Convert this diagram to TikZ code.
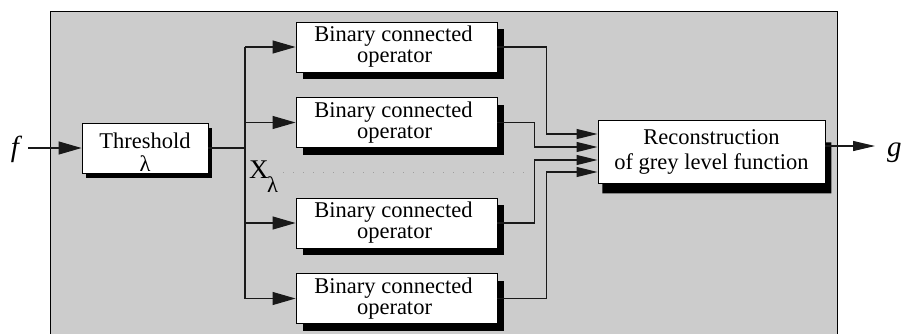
\documentclass[tikz,border=0pt]{standalone}
\usepackage{fontspec}
\setmainfont{Liberation Serif}
\newfontfamily\serifface{Liberation Serif}
\usetikzlibrary{arrows.meta,shadows,calc}
\tikzset{
  wire/.style={line width=1.1pt, draw=black!90},
  arr/.style={wire, -{Triangle[length=23pt,width=13pt]}},
  arrs/.style={wire, -{Triangle[length=21pt,width=10pt]}},
  block/.style={draw=black, line width=0.9pt, fill=white, inner sep=0pt, align=center},
  opbox/.style={block, minimum width=201pt, minimum height=50pt,
    font=\serifface\fontsize{22.5}{21}\selectfont,
    general shadow={fill=black, shadow xshift=7pt, shadow yshift=-7pt}},
  dots/.style={black!38, line width=1pt, dash pattern=on 1pt off 9pt},
}
\begin{document}
\begin{tikzpicture}[x=1pt,y=-1pt]
\useasboundingbox (0,0) rectangle (901,333);
\clip (0,0) rectangle (901,333);

% grey panel
\fill[black!20] (50,11) rectangle (837,345);
\draw[line width=1pt] (50,345) -- (50,11) -- (837,11) -- (837,345);

% input / output symbols
\node[anchor=base, inner sep=0pt, font=\serifface\fontsize{29}{29}\selectfont\itshape] (f) at (15,156) {f};
\node[anchor=base west, inner sep=0pt, font=\serifface\fontsize{29}{29}\selectfont\itshape] (g) at (887,156) {g};

% threshold block
\node[block, minimum width=126pt, minimum height=50pt,
      font=\serifface\fontsize{22.5}{23}\selectfont,
      general shadow={fill=black, shadow xshift=4pt, shadow yshift=-5pt}]
  (thr) at (145,148) {\rule{0pt}{23pt}Threshold\\λ};

% binary connected operators
\node[opbox] (op1) at (396.5,47)    {Binary connected\hspace*{6pt}\\operator\hspace*{4pt}};
\node[opbox] (op2) at (396.5,122.5) {Binary connected\hspace*{6pt}\\operator\hspace*{4pt}};
\node[opbox] (op3) at (396.5,223)   {Binary connected\hspace*{6pt}\\operator\hspace*{4pt}};
\node[opbox] (op4) at (396.5,298.5) {Binary connected\hspace*{6pt}\\operator\hspace*{4pt}};

% reconstruction block
\node[block, minimum width=227pt, minimum height=63pt,
      font=\serifface\fontsize{22.5}{25}\selectfont]
  (rec) at (711.5,151.5) {Reconstruction\\of grey level function};
\fill ($(rec.south east)+(0,-41)$) -- ++(6,0) -- ++(0,51) -- ++(-229,0)
      -- ++(0,-10) -- (rec.south east) -- cycle;

% X_lambda label and dotted continuation
\node[anchor=base west, inner sep=0pt, font=\serifface\fontsize{27}{27}\selectfont]
  (xl) at (249,178) {X\kern-1.5pt\raisebox{-14pt}{\fontsize{22.5}{22}\selectfont λ}};
\coordinate (d1) at (283,172);
\coordinate (d2) at (525,172);
\draw[dots] (d1) -- (d2);

% input arrow and fan-out
\coordinate (fin) at (28,148);
\coordinate (split) at (245,148);
\draw[arr] (fin) -- (thr.west);
\draw[wire] (thr.east) -- (split);
\draw[wire] (op1.west -| split) -- (op4.west -| split);
\foreach \n in {op1,op2,op3,op4}
  \draw[arr] (\n.west -| split) -- (\n.west);

% fan-in to reconstruction
\coordinate (in1) at ($(rec.west)+(0,-17.5)$);
\coordinate (in2) at ($(rec.west)+(0,-4.5)$);
\coordinate (in3) at ($(rec.west)+(0,8.5)$);
\coordinate (in4) at ($(rec.west)+(0,20.5)$);
\draw[arrs] (op1.east) -| ($(in1)+(-51,0)$) -- (in1);
\draw[arrs] (op2.east) -| ($(in2)+(-63,0)$) -- (in2);
\draw[arrs] (op3.east) -| ($(in3)+(-63,0)$) -- (in3);
\draw[arrs] (op4.east) -| ($(in4)+(-51,0)$) -- (in4);

% output arrow
\coordinate (out) at ($(rec.east)+(0,-5.5)$);
\draw[wire, -{Triangle[length=22pt,width=10pt]}] (out) -- ($(g.west |- out)+(-12,0)$);
\end{tikzpicture}
\end{document}
